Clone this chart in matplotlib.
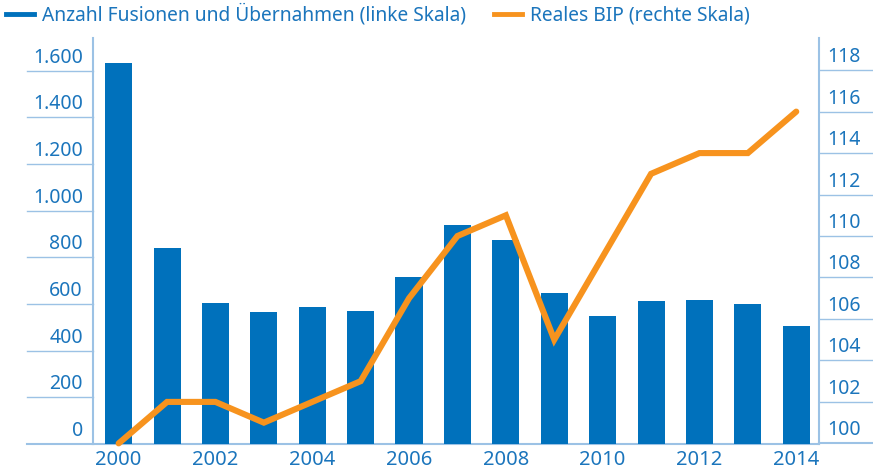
import matplotlib
matplotlib.use("Agg")
import matplotlib.pyplot as plt
import matplotlib.transforms as mtransforms
from matplotlib.lines import Line2D
import numpy as np

years = [2000, 2001, 2002, 2003, 2004, 2005, 2006, 2007, 2008, 2009, 2010, 2011, 2012, 2013, 2014]
mergers = [1633, 840, 604, 566, 587, 570, 716, 939, 874, 647, 549, 613, 617, 600, 506]
gdp = [100, 102, 102, 101, 102, 103, 107, 110, 111, 105, 109, 113, 114, 114, 116]
left_ticks = [0, 200, 400, 600, 800, 1000, 1200, 1400, 1600]
left_labels = ["0", "200", "400", "600", "800", "1.000", "1.200", "1.400", "1.600"]
right_ticks = [100, 102, 104, 106, 108, 110, 112, 114, 116, 118]
right_labels = [str(v) for v in right_ticks]
xtick_years = [2000, 2002, 2004, 2006, 2008, 2010, 2012, 2014]
legend_labels = ["Anzahl Fusionen und Übernahmen (linke Skala)", "Reales BIP (rechte Skala)"]

BAR = "#0071BC"
ORANGE = "#F7931E"
TEXT = "#1B75BC"
AXIS = "#9CC2E5"

plt.rcParams['font.family'] = ['Noto Sans', 'DejaVu Sans']

W, H = 873, 472
fig = plt.figure(figsize=(W / 100, H / 100), dpi=100)
L, R, B, T = 93, 819, 444, 38
ax = fig.add_axes([L / W, 1 - B / H, (R - L) / W, (B - T) / H])
ax2 = ax.twinx()

x = np.arange(len(years))
ax.bar(x, mergers, width=0.56, color=BAR, zorder=2)
ax.set_xlim(-0.53, len(years) - 1 + 0.47)
ax.set_ylim(0, 1740)
ax2.set_ylim(99.97, 119.55)

ax2.plot(x, gdp, color=ORANGE, lw=4.4, solid_capstyle='round', solid_joinstyle='miter',
         clip_on=False, zorder=3)

for a in (ax, ax2):
    for s in a.spines.values():
        s.set_visible(False)
    a.set_yticks([])
    a.tick_params(left=False, right=False)

ax.spines['left'].set_visible(True)
ax.spines['left'].set_color(AXIS)
ax.spines['left'].set_linewidth(1.5)
ax2.spines['right'].set_visible(True)
ax2.spines['right'].set_color(AXIS)
ax2.spines['right'].set_linewidth(1.5)

# x ticks
ax.set_xticks([years.index(y) for y in xtick_years])
ax.set_xticklabels([str(y) for y in xtick_years], color=TEXT, fontsize=14.5)
ax.tick_params(axis='x', length=0, pad=4)

fontsize = 14
# left tick lines + labels
tl = mtransforms.blended_transform_factory(ax.transAxes, ax.transData)
left_len = (L - 27) / (R - L)
for v, lab in zip(left_ticks, left_labels):
    ax.add_line(Line2D([-left_len, 0], [v, v], transform=tl, color=AXIS,
                       lw=1.5 if v == 0 else 1.0, clip_on=False, zorder=1))
    ax.annotate(lab, xy=(0, v), xycoords=tl, xytext=(-10, 3), textcoords='offset pixels',
                ha='right', va='bottom', color=TEXT, fontsize=fontsize)
ax.add_line(Line2D([0, 1], [0, 0], transform=tl, color=AXIS, lw=1.5, clip_on=False, zorder=1))

tr = mtransforms.blended_transform_factory(ax2.transAxes, ax2.transData)
right_len = (W - R) / (R - L)
for v, lab in zip(right_ticks, right_labels):
    ax2.add_line(Line2D([1, 1 + right_len], [v, v], transform=tr, color=AXIS,
                        lw=1.5 if v == 100 else 1.0, clip_on=False, zorder=1))
    ax2.annotate(lab, xy=(1, v), xycoords=tr, xytext=(8, 3), textcoords='offset pixels',
                 ha='left', va='bottom', color=TEXT, fontsize=fontsize)

# legend
lfs = 13.8
handles = [Line2D([], [], color=BAR, lw=3.5), Line2D([], [], color=ORANGE, lw=3.5)]
fs_px = lfs / 72 * 100
leg = fig.legend(handles, legend_labels, ncol=2, loc='center left',
                 bbox_to_anchor=(6 / W, 1 - 15 / H), frameon=False, borderpad=0,
                 borderaxespad=0, handlelength=28 / fs_px, handletextpad=8 / fs_px,
                 columnspacing=28 / fs_px, fontsize=lfs)
for t in leg.get_texts():
    t.set_color(TEXT)

fig.savefig("out.png", dpi=100)
